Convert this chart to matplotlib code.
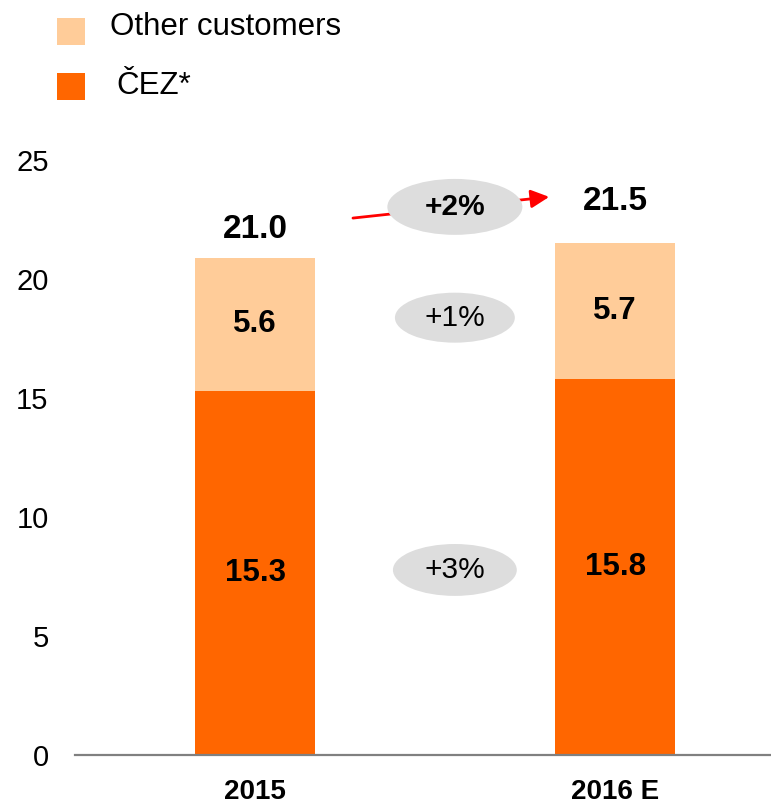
import matplotlib.pyplot as plt
from matplotlib.patches import Ellipse, Rectangle

plt.rcParams["font.family"] = ["Liberation Sans", "DejaVu Sans"]

# ==========================
# DATA
# ==========================

years = ["2015", "2016 E"]
cez = [15.3, 15.8]
other = [5.6, 5.7]
totals = [21.0, 21.5]
growth_labels = ["+3%", "+1%", "+2%"]

CEZ_COLOR = "#FF6600"
OTHER_COLOR = "#FFCC99"
BUBBLE_COLOR = "#DDDDDD"

fig = plt.figure(figsize=(7.71, 8.06), dpi=100)
ax = fig.add_axes([75 / 771, 51 / 806, 696 / 771, 595 / 806])

x = list(range(len(years)))
bar_w = 0.333

ax.bar(x, cez, width=bar_w, color=CEZ_COLOR)
ax.bar(x, other, width=bar_w, bottom=cez, color=OTHER_COLOR)

# values inside the bars
for i in x:
    ax.text(i, cez[i] / 2, f"{cez[i]:.1f}", ha="center", va="center",
            fontsize=22.5, fontweight="bold")
    ax.text(i, cez[i] + other[i] / 2, f"{other[i]:.1f}", ha="center",
            va="center", fontsize=22.5, fontweight="bold")

# totals above the bars
total_offsets = [1.06, 1.74]
for i in x:
    ax.text(i, totals[i] + total_offsets[i], f"{totals[i]:.1f}",
            ha="center", va="center", fontsize=24, fontweight="bold")

# ==========================
# GROWTH BUBBLES
# ==========================

mid_x = 0.555
cez_mid = (cez[0] + cez[1]) / 4
other_mid = (cez[0] + cez[1]) / 2 + (other[0] + other[1]) / 4
total_y = 23.03

ax.annotate("", xy=(0.817, 23.45), xytext=(0.272, 22.56),
            arrowprops=dict(arrowstyle="-|>,head_length=1.1,head_width=0.55",
                            color="red", lw=2.0, shrinkA=0, shrinkB=0),
            zorder=3)

bubbles = [
    (cez_mid, 0.344, 2.18, growth_labels[0], "normal"),
    (other_mid, 0.333, 2.1, growth_labels[1], "normal"),
    (total_y, 0.375, 2.35, growth_labels[2], "bold"),
]
for y, w, h, label, weight in bubbles:
    ax.add_patch(Ellipse((mid_x, y), w, h, facecolor=BUBBLE_COLOR,
                         edgecolor="none", zorder=4))
    ax.text(mid_x, y, label, ha="center", va="center", fontsize=21.5,
            fontweight=weight, zorder=5)

# ==========================
# AXES STYLE
# ==========================

ax.set_xlim(-0.5, 1.433)
ax.set_ylim(0, 25)
ax.set_yticks([0, 5, 10, 15, 20, 25])
ax.set_xticks(x)
ax.set_xticklabels(years, fontsize=20, fontweight="bold")
ax.tick_params(axis="y", length=0, pad=19, labelsize=21)
ax.tick_params(axis="x", length=0, pad=17)

for side in ["top", "right", "left"]:
    ax.spines[side].set_visible(False)
ax.spines["bottom"].set_color("#808080")
ax.spines["bottom"].set_linewidth(1.6)
ax.spines["bottom"].set_zorder(1)

# ==========================
# LEGEND
# ==========================

legend_items = [
    (OTHER_COLOR, "Other customers", 18, 110, 27),
    (CEZ_COLOR, "ČEZ*", 73, 116, 86),
]
for color, label, top_px, text_px, text_y in legend_items:
    fig.add_artist(Rectangle((57 / 771, (806 - top_px - 27) / 806),
                             28 / 771, 27 / 806, transform=fig.transFigure,
                             facecolor=color, edgecolor="none"))
    fig.text(text_px / 771, (806 - text_y) / 806, label,
             ha="left", va="center", fontsize=22.5)

fig.savefig("out.png", dpi=100)
